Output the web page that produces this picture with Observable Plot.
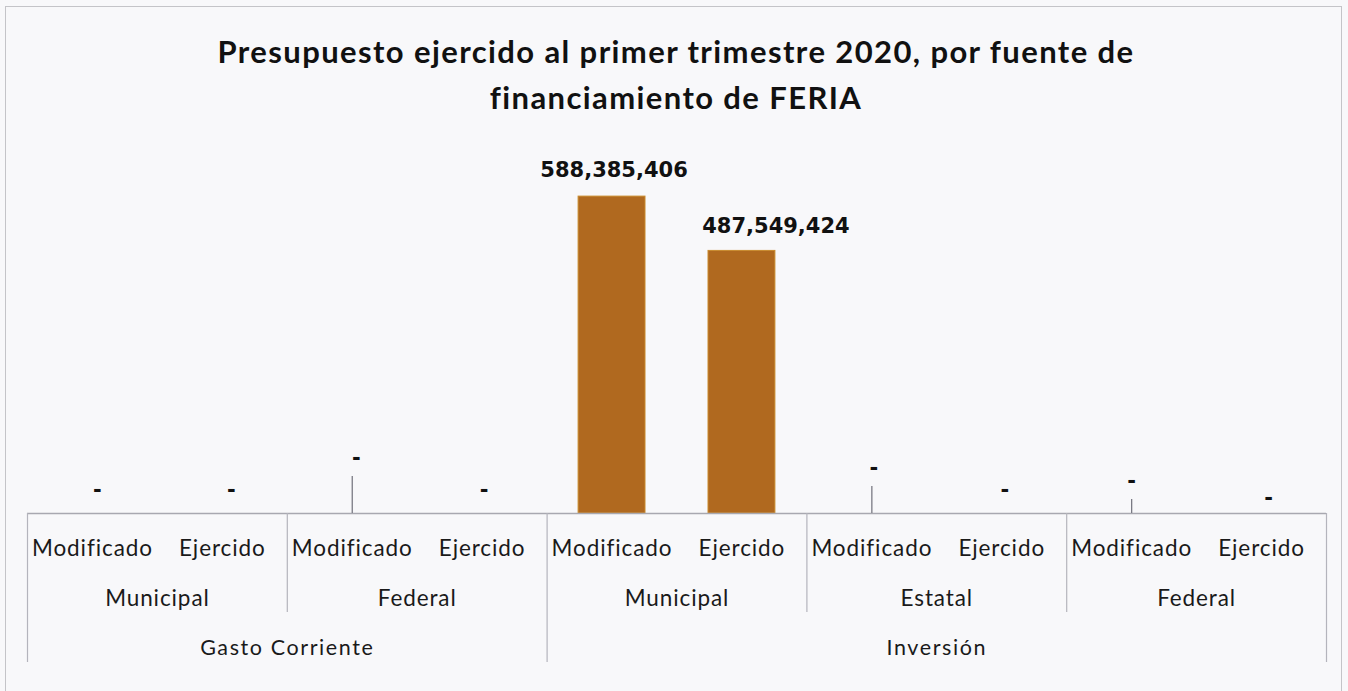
<!DOCTYPE html>
<html>
<head>
<meta charset="utf-8">
<script src="https://cdn.jsdelivr.net/npm/d3@7"></script>
<script src="https://cdn.jsdelivr.net/npm/@observablehq/plot@0.6"></script>
<style>
  html, body { margin: 0; padding: 0; background: #f8f8fa; }
  #frame { position: absolute; left: 5px; top: 6px; width: 1337px; height: 690px;
           border: 1.5px solid #c4c4c8; border-bottom: none; box-sizing: border-box; }
  #title { position: absolute; left: 0; top: 28px; width: 1352px; text-align: center;
           font-family: Lato, "Open Sans", sans-serif; font-weight: 700; font-size: 31px;
           letter-spacing: 1.4px; line-height: 46px; color: #111; }
  #chart { position: absolute; left: 0; top: 120px; }
  .axlab text { letter-spacing: 0.9px; }
  .axlab3 text { letter-spacing: 1.6px; }
</style>
</head>
<body>
<div id="frame"></div>
<div id="title">Presupuesto ejercido al primer trimestre 2020, por fuente de<br>financiamiento de FERIA</div>
<div id="chart"></div>
<script>
// ---- data ----
const tipos    = ["Gasto Corriente", "Gasto Corriente", "Gasto Corriente", "Gasto Corriente",
                  "Inversión", "Inversión", "Inversión", "Inversión", "Inversión", "Inversión"];
const fuentes  = ["Municipal", "Municipal", "Federal", "Federal",
                  "Municipal", "Municipal", "Estatal", "Estatal", "Federal", "Federal"];
const momentos = ["Modificado", "Ejercido", "Modificado", "Ejercido", "Modificado",
                  "Ejercido", "Modificado", "Ejercido", "Modificado", "Ejercido"];
const montos   = [0, 0, 0, 0, 588385406, 487549424, 0, 0, 0, 0];

// ---- label nudges (pixels, as placed in the original) ----
const labelLift  = [23, 23, 55, 23, 26, 25, 45, 23, 32, 15];
const labelShift = [5, 9, 4, 2, 2, 34, 2, 3, 0, 7];

// ---- layout ----
const W = 1348, H = 571, mt = 16, mb = 178, ml = 27, mr = 22;
const yMax = 700e6;
const plotH = H - mt - mb;
const toY = px => px * yMax / plotH;       // pixel length -> y units
const step = (W - ml - mr) / tipos.length;

const rows = tipos.map((t, i) => ({
  key: `${t}|${fuentes[i]}|${momentos[i]}|${i}`,
  tipo: t, fuente: fuentes[i], momento: momentos[i], value: montos[i],
  lift: labelLift[i], shift: labelShift[i]
}));
const keys = rows.map(d => d.key);
const fmt = v => v === 0 ? "-" : d3.format(",")(v);

// group spans
function spans(level) {
  const out = [];
  rows.forEach((d, i) => {
    const id = level === "tipo" ? d.tipo : d.tipo + "|" + d.fuente;
    if (!out.length || out[out.length - 1].id !== id) out.push({id, label: level === "tipo" ? d.tipo : d.fuente, first: i, count: 1});
    else out[out.length - 1].count++;
  });
  return out;
}
const fuenteSpans = spans("fuente");
const tipoSpans = spans("tipo");

const tipoStarts = new Set(tipoSpans.map(s => s.first));
const seps = fuenteSpans.map(s => ({key: keys[s.first], long: tipoStarts.has(s.first)}));
const lastKey = keys[keys.length - 1];

const font = "Lato, 'Open Sans', sans-serif";
const axisText = {fill: "#1a1a1a", fontSize: 22.5, className: "axlab"};

const chart = Plot.plot({
  width: W, height: H,
  marginTop: mt, marginBottom: mb, marginLeft: ml, marginRight: mr,
  style: {background: "transparent", fontFamily: font},
  x: {domain: keys, paddingInner: 0.485, paddingOuter: 0.2425, round: false, axis: null},
  y: {domain: [0, yMax], axis: null},
  marks: [
    Plot.barY(rows, {x: "key", y: "value", fill: "#b0691f", stroke: "#c98a2c", strokeWidth: 1}),
    Plot.ruleY([0], {stroke: "#a8a8b0", strokeWidth: 1.5}),
    Plot.ruleX(seps, {x: "key", dx: -step / 2, y1: 0, y2: d => -toY(d.long ? 149 : 99), stroke: "#b4b4bc", strokeWidth: 1.2}),
    Plot.ruleX([lastKey], {x: d => d, dx: step / 2, y1: 0, y2: -toY(149), stroke: "#b4b4bc", strokeWidth: 1.2}),
    Plot.ruleX(rows.filter(d => d.value === 0 && d.lift > 30), {x: "key", y1: 0, y2: d => toY(d.lift - 18), stroke: "#7a7a84", strokeWidth: 1.3}),
    // value labels, one mark per bar so each keeps its own nudge
    ...rows.map(r => Plot.text([r], {x: "key", y: d => d.value + toY(d.lift), dx: r.shift, text: d => fmt(d.value),
      fontFamily: "'DejaVu Sans', Verdana, sans-serif", fontWeight: "bold", fontSize: 21, fill: "#111"})),
    Plot.text(rows, {x: "key", y: 0, dy: 35, text: "momento", ...axisText}),
    Plot.text(fuenteSpans, {x: d => keys[d.first], y: 0, dx: step / 2, dy: 85, text: "label", ...axisText}),
    Plot.text(tipoSpans, {x: d => keys[d.first + Math.floor((d.count - 1) / 2)], y: 0, dx: step / 2, dy: 135, text: "label",
      fill: "#1a1a1a", fontSize: 21.5, className: "axlab3"})
  ]
});
document.getElementById("chart").append(chart);
</script>
</body>
</html>
